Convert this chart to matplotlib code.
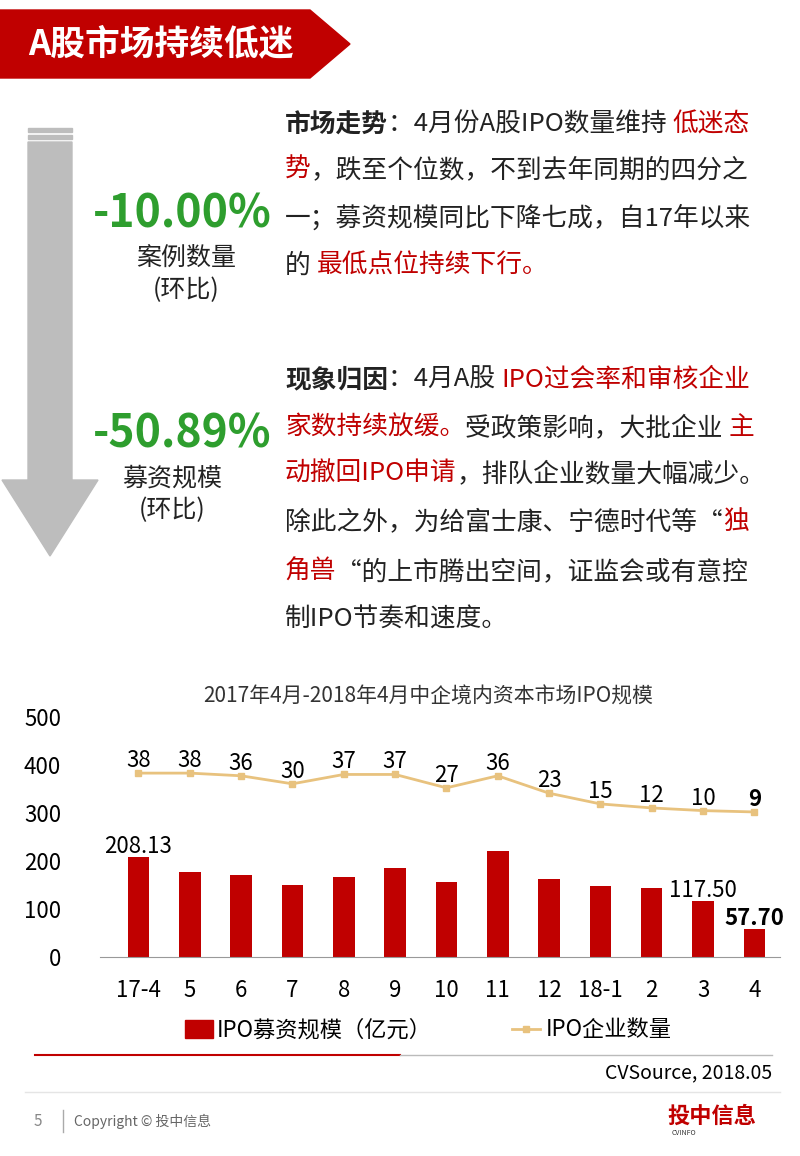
import matplotlib
matplotlib.use("Agg")
import matplotlib.pyplot as plt
from matplotlib.patches import Polygon, Rectangle
plt.rcParams['font.family'] = ['Noto Sans CJK SC']

months = ["17-4","5","6","7","8","9","10","11","12","18-1","2","3","4"]
amount = [208.13,177,171,150,167,185,156,221,162,148,144,117.50,57.70]
counts = [38,38,36,30,37,37,27,36,23,15,12,10,9]

W, H = 800, 1156
fig = plt.figure(figsize=(8, 11.56), dpi=100)
bg = fig.add_axes([0, 0, 1, 1]); bg.set_xlim(0, W); bg.set_ylim(H, 0); bg.axis('off')
RED = "#C00000"
bg.add_patch(Polygon([(0,10),(310,10),(350,44),(310,78),(0,78)], color=RED))
bg.text(28, 44, "A股市场持续低迷", color="white", fontsize=25, fontweight='bold', va='center')
bg.add_patch(Rectangle((28,128),44,4,color="#BDBDBD"))
bg.add_patch(Rectangle((28,135),44,4,color="#BDBDBD"))
bg.add_patch(Polygon([(28,142),(72,142),(72,480),(98,480),(50,556),(2,480),(28,480)], color="#BDBDBD"))
GREEN = "#2E9E2E"
bg.text(182, 214, "-10.00%", color=GREEN, fontsize=32, fontweight='bold', ha='center', va='center')
bg.text(186, 258, "案例数量", fontsize=18, ha='center', va='center', color="#222")
bg.text(186, 290, "(环比)", fontsize=18, ha='center', va='center', color="#222")
bg.text(182, 434, "-50.89%", color=GREEN, fontsize=32, fontweight='bold', ha='center', va='center')
bg.text(172, 478, "募资规模", fontsize=18, ha='center', va='center', color="#222")
bg.text(172, 510, "(环比)", fontsize=18, ha='center', va='center', color="#222")

r = fig.canvas.get_renderer()
def line(y, parts, x=285):
    for t, c, b in parts:
        tt = bg.text(x, y, t, color=c, fontsize=18.5, fontweight='bold' if b else 'normal', va='center')
        x += tt.get_window_extent(r).width
K = "#222"
line(125, [("市场走势", K, True), ("：4月份A股IPO数量维持 ", K, False), ("低迷态", RED, False)])
line(170, [("势", RED, False), ("，跌至个位数，不到去年同期的四分之", K, False)])
line(218, [("一；募资规模同比下降七成，自17年以来", K, False)])
line(266, [("的 ", K, False), ("最低点位持续下行。", RED, False)])
line(380, [("现象归因", K, True), ("：4月A股 ", K, False), ("IPO过会率和审核企业", RED, False)])
line(428, [("家数持续放缓。", RED, False), ("受政策影响，大批企业 ", K, False), ("主", RED, False)])
line(474, [("动撤回IPO申请", RED, False), ("，排队企业数量大幅减少。", K, False)])
line(522, [("除此之外，为给富士康、宁德时代等“", K, False), ("独", RED, False)])
line(572, [("角兽", RED, False), ("“的上市腾出空间，证监会或有意控", K, False)])
line(620, [("制IPO节奏和速度。", K, False)])

ax = fig.add_axes([100/W, 1-957/H, 680/W, 240/H])
x = range(len(months))
ax.bar(x, amount, width=0.42, color=RED, label="IPO募资规模（亿元）")
ax.set_ylim(0, 500); ax.set_xlim(-0.75, 12.5)
ax.set_yticks([0,100,200,300,400,500])
ax.tick_params(axis='y', length=0, labelsize=16, pad=28)
ax.set_xticks(list(x)); ax.set_xticklabels(months, fontsize=16)
ax.tick_params(axis='x', length=0, pad=16)
for s in ['top','right','left']: ax.spines[s].set_visible(False)
ax.spines['bottom'].set_color('#999')
ax.text(0, amount[0]+8, "208.13", ha='center', fontsize=16)
ax.text(11, amount[11]+8, "117.50", ha='center', fontsize=16)
ax.text(12, amount[12]+8, "57.70", ha='center', fontsize=16, fontweight='bold')
ax2 = ax.twinx()
ax2.set_ylim(-99.3, 79.9)
ax2.plot(x, counts, color="#E8C27E", lw=2, marker='s', ms=5, label="IPO企业数量")
ax2.axis('off')
for i, c in enumerate(counts):
    ax2.text(i, c+4.5, str(c), ha='center', fontsize=16, fontweight='bold' if i == 12 else 'normal')
fig.text(0.535, 1-697/H, "2017年4月-2018年4月中企境内资本市场IPO规模", ha='center', va='center', fontsize=15, color='#333')
bg.add_patch(Rectangle((185,1020),28,18,color=RED))
bg.text(217, 1030, "IPO募资规模（亿元）", fontsize=16, va='center')
bg.plot([512,540],[1029,1029], color="#E8C27E", lw=2); bg.plot([526],[1029],'s',color="#E8C27E",ms=5)
bg.text(546, 1030, "IPO企业数量", fontsize=16, va='center')
bg.plot([35,400],[1055,1055], color=RED, lw=1.5)
bg.plot([400,772],[1055,1055], color="#BBBBBB", lw=1)
bg.text(772, 1073, "CVSource, 2018.05", fontsize=14, ha='right', va='center')
bg.plot([25,780],[1092,1092], color="#E5E5E5", lw=1)
bg.text(34, 1121, "5", fontsize=11, color="#888", va='center')
bg.plot([63,63],[1110,1132], color="#AAA", lw=1)
bg.text(74, 1121, "Copyright © 投中信息", fontsize=10, color="#666", va='center')
bg.text(756, 1116, "投中信息", fontsize=16, fontweight='bold', color=RED, ha='right', va='center')
bg.text(672, 1133, "CVINFO", fontsize=5, color="#333", va='center')
fig.savefig("out.png", dpi=100)
